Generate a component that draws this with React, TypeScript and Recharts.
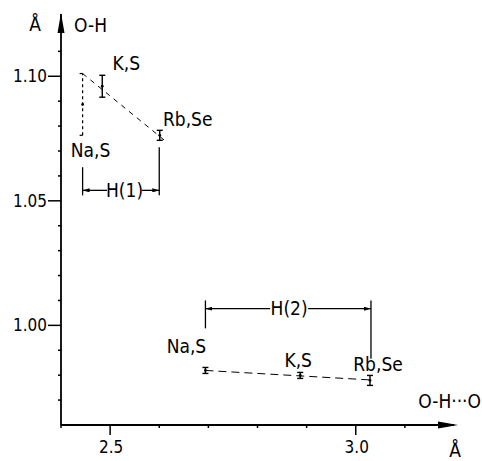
import { ScatterChart, Scatter, XAxis, YAxis, ErrorBar, ReferenceLine, ReferenceDot } from "recharts"

const FONT = '"DejaVu Sans Condensed", "Liberation Sans Narrow", "DejaVu Sans", sans-serif'

// salts, in the same order for both hydrogen sites
const salts = ["Na,S", "K,S", "Rb,Se"]

// H(1): O-H...O distance (Å) and O-H bond length (Å)
const h1Dist = [2.444, 2.484, 2.601]
const h1Bond = [1.0887, 1.096, 1.0763]
const h1Err = [0.0124, 0.0044, 0.002]

// H(2)
const h2Dist = [2.694, 2.887, 3.029]
const h2Bond = [0.9819, 0.9799, 0.9779]
const h2Err = [0.0012, 0.0012, 0.002]

// dashed trend lines through each group
const h1TrendDist = [2.444, 2.615]
const h1TrendBond = [1.1011, 1.0736]
const h2TrendDist = [2.694, 3.029]
const h2TrendBond = [0.9819, 0.9781]

// axis ticks
const xTicks = [2.4, 2.5, 2.6, 2.7, 2.8, 2.9, 3.0, 3.1]
const xTickLabels = ["", "2.5", "", "", "", "", "3.0", ""]
const yTicks = [0.97, 0.98, 0.99, 1.0, 1.01, 1.02, 1.03, 1.04, 1.05, 1.06, 1.07, 1.08, 1.09, 1.1, 1.11]
const yTickLabels = ["", "", "", "1.00", "", "", "", "", "1.05", "", "", "", "", "1.10", ""]

// H(1) / H(2) range brackets (data coords)
const h1Bracket = { left: 2.444, right: 2.6, top: [1.0635, 1.0715], bottom: 1.0522, arrowY: 1.0542, gap: [2.4937, 2.565] }
const h2Bracket = { left: 2.694, right: 3.031, top: [1.01, 1.01], bottom: [0.9988, 0.9866], arrowY: 1.0067, gap: [2.8257, 2.9031] }

// label offsets from each point, px
const h1LabelOffset: Record<string, number[]> = { "Na,S": [8, 46], "K,S": [24, -23], "Rb,Se": [28, -16] }
const h2LabelOffset: Record<string, number[]> = { "Na,S": [-19, -24], "K,S": [-2, -15], "Rb,Se": [8, -16] }

const h1Points = salts.map((name, i) => ({ name, x: h1Dist[i], y: h1Bond[i], err: h1Err[i] }))
const h2Points = salts.map((name, i) => ({ name, x: h2Dist[i], y: h2Bond[i], err: h2Err[i] }))
const h1Trend = h1TrendDist.map((x, i) => ({ x, y: h1TrendBond[i] }))
const h2Trend = h2TrendDist.map((x, i) => ({ x, y: h2TrendBond[i] }))

const pick = (ticks: number[], labels: string[], v: number) => {
  const i = ticks.findIndex((t) => Math.abs(t - v) < 1e-6)
  return i < 0 ? "" : labels[i]
}

function XTick(props: any) {
  const { x, y, payload } = props
  const label = pick(xTicks, xTickLabels, payload.value)
  return (
    <g>
      <line x1={x} y1={y} x2={x} y2={y + (label ? 10 : 3)} stroke="#000" strokeWidth={1.5} />
      {label && (
        <text x={x + 1} y={y + 28} textAnchor="middle" fontSize={17} fontFamily={FONT} fill="#000">
          {label}
        </text>
      )}
    </g>
  )
}

function YTick(props: any) {
  const { x, y, payload } = props
  const label = pick(yTicks, yTickLabels, payload.value)
  return (
    <g>
      <line x1={x - (label ? 13 : 3)} y1={y} x2={x} y2={y} stroke="#000" strokeWidth={1.5} />
      {label && (
        <text x={x - 14} y={y + 6} textAnchor="end" fontSize={17} fontFamily={FONT} fill="#000">
          {label}
        </text>
      )}
    </g>
  )
}

const pointShape = (offsets: Record<string, number[]>) => (p: any) => {
  const [dx, dy] = offsets[p.payload.name]
  return (
    <g>
      <circle cx={p.cx} cy={p.cy} r={1.4} fill="#000" />
      <text
        x={p.cx + dx}
        y={p.cy + dy}
        textAnchor="middle"
        dominantBaseline="central"
        fontSize={19}
        fontFamily={FONT}
        fill="#000"
      >
        {p.payload.name}
      </text>
    </g>
  )
}

const noShape = () => <g />

const txt = { fontSize: 19, fontFamily: FONT, fill: "#000" }

export default function App() {
  return (
    <div style={{ position: "absolute", left: 0, top: 0, width: 482, height: 461, background: "#fff" }}>
      <ScatterChart width={482} height={461} margin={{ top: 14, right: 28, left: 0, bottom: 0 }}>
        <defs>
          <marker id="arrowAxis" viewBox="0 0 20 8" refX="16" refY="4" markerWidth="20" markerHeight="8"
            markerUnits="userSpaceOnUse" orient="auto-start-reverse">
            <path d="M0,0.5 L20,4 L0,7.5 z" fill="#000" />
          </marker>
          <marker id="arrowAxisY" viewBox="0 0 20 8" refX="19" refY="4" markerWidth="20" markerHeight="8"
            markerUnits="userSpaceOnUse" orient="auto-start-reverse">
            <path d="M0,0.5 L20,4 L0,7.5 z" fill="#000" />
          </marker>
          <marker id="tip" viewBox="0 0 7 4" refX="7" refY="2" markerWidth="7" markerHeight="4"
            markerUnits="userSpaceOnUse" orient="auto">
            <path d="M0,0 L7,2 L0,4 z" fill="#000" />
          </marker>
        </defs>
        <XAxis
          type="number"
          dataKey="x"
          domain={[2.4, 3.2]}
          ticks={xTicks}
          tick={<XTick />}
          tickLine={false}
          tickSize={0}
          tickMargin={0}
          height={36}
          axisLine={{ stroke: "#000", strokeWidth: 1.8, markerEnd: "url(#arrowAxis)" }}
          allowDataOverflow
          label={{
            content: (props: any) => {
              const vb = props.viewBox
              return (
                <g>
                  <text x={481} y={vb.y - 24} textAnchor="end" dominantBaseline="central" {...txt}>
                    O-H···O
                  </text>
                  <text x={455} y={vb.y + 25} textAnchor="middle" dominantBaseline="central" {...txt}>
                    Å
                  </text>
                </g>
              )
            },
          }}
        />
        <YAxis
          type="number"
          dataKey="y"
          domain={[0.96, 1.125]}
          ticks={yTicks}
          tick={<YTick />}
          tickLine={false}
          tickSize={0}
          tickMargin={0}
          width={61}
          axisLine={{ stroke: "#000", strokeWidth: 1.8, markerStart: "url(#arrowAxisY)" }}
          allowDataOverflow
          label={{
            content: (props: any) => {
              const vb = props.viewBox
              const ax = vb.x + vb.width
              return (
                <g>
                  <text x={ax - 26} y={vb.y + 10} textAnchor="middle" dominantBaseline="central" {...txt}>
                    Å
                  </text>
                  <text x={ax + 13} y={vb.y + 11} textAnchor="start" dominantBaseline="central" {...txt}>
                    O-H
                  </text>
                </g>
              )
            },
          }}
        />

        {/* H(1) bracket */}
        <ReferenceLine segment={[{ x: h1Bracket.left, y: h1Bracket.bottom }, { x: h1Bracket.left, y: h1Bracket.top[0] }]} stroke="#000" strokeWidth={1.3} />
        <ReferenceLine segment={[{ x: h1Bracket.right, y: h1Bracket.bottom }, { x: h1Bracket.right, y: h1Bracket.top[1] }]} stroke="#000" strokeWidth={1.3} />
        <ReferenceLine segment={[{ x: h1Bracket.gap[0], y: h1Bracket.arrowY }, { x: h1Bracket.left, y: h1Bracket.arrowY }]} stroke="#000" strokeWidth={1.3} markerEnd="url(#tip)" />
        <ReferenceLine segment={[{ x: h1Bracket.gap[1], y: h1Bracket.arrowY }, { x: h1Bracket.right, y: h1Bracket.arrowY }]} stroke="#000" strokeWidth={1.3} markerEnd="url(#tip)" />
        <ReferenceDot x={(h1Bracket.gap[0] + h1Bracket.gap[1]) / 2} y={h1Bracket.arrowY} r={0} fill="none" stroke="none"
          label={{ value: "H(1)", position: "center", ...txt }} />

        {/* H(2) bracket */}
        <ReferenceLine segment={[{ x: h2Bracket.left, y: h2Bracket.bottom[0] }, { x: h2Bracket.left, y: h2Bracket.top[0] }]} stroke="#000" strokeWidth={1.3} />
        <ReferenceLine segment={[{ x: h2Bracket.right, y: h2Bracket.bottom[1] }, { x: h2Bracket.right, y: h2Bracket.top[1] }]} stroke="#000" strokeWidth={1.3} />
        <ReferenceLine segment={[{ x: h2Bracket.gap[0], y: h2Bracket.arrowY }, { x: h2Bracket.left, y: h2Bracket.arrowY }]} stroke="#000" strokeWidth={1.3} markerEnd="url(#tip)" />
        <ReferenceLine segment={[{ x: h2Bracket.gap[1], y: h2Bracket.arrowY }, { x: h2Bracket.right, y: h2Bracket.arrowY }]} stroke="#000" strokeWidth={1.3} markerEnd="url(#tip)" />
        <ReferenceDot x={(h2Bracket.gap[0] + h2Bracket.gap[1]) / 2} y={h2Bracket.arrowY} r={0} fill="none" stroke="none"
          label={{ value: "H(2)", position: "center", ...txt }} />

        {/* trend lines */}
        <Scatter data={h1Trend} line={{ stroke: "#000", strokeWidth: 1, strokeDasharray: "5 5" }} shape={noShape} isAnimationActive={false} />
        <Scatter data={h2Trend} line={{ stroke: "#000", strokeWidth: 1, strokeDasharray: "8 5" }} shape={noShape} isAnimationActive={false} />

        {/* H(1) points: Na,S drawn as a dashed range */}
        <Scatter data={h1Points.slice(0, 1)} shape={pointShape(h1LabelOffset)} isAnimationActive={false}>
          <ErrorBar dataKey="err" direction="y" width={3} stroke="#000" strokeWidth={1.2} strokeDasharray="3 3" />
        </Scatter>
        <Scatter data={h1Points.slice(1)} shape={pointShape(h1LabelOffset)} isAnimationActive={false}>
          <ErrorBar dataKey="err" direction="y" width={3} stroke="#000" strokeWidth={1.4} />
        </Scatter>

        {/* H(2) points */}
        <Scatter data={h2Points} shape={pointShape(h2LabelOffset)} isAnimationActive={false}>
          <ErrorBar dataKey="err" direction="y" width={3} stroke="#000" strokeWidth={1.4} />
        </Scatter>
      </ScatterChart>
    </div>
  )
}
